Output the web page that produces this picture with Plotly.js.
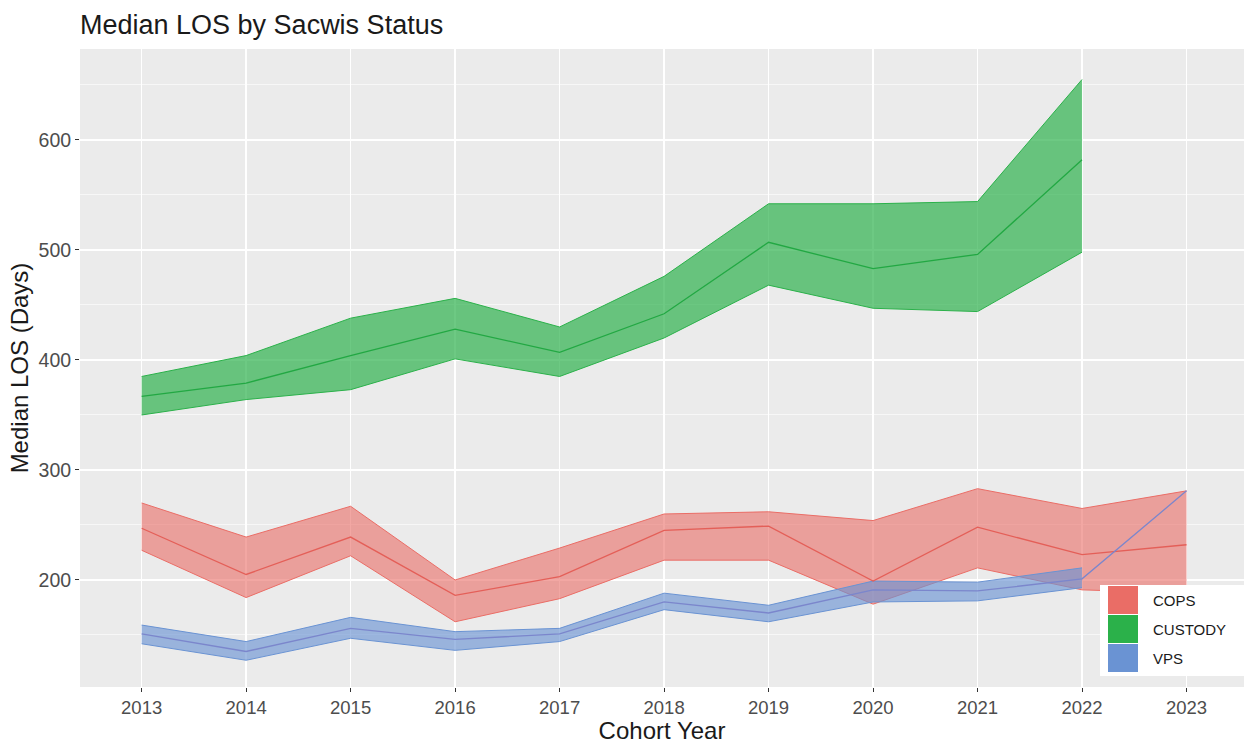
<!DOCTYPE html>
<html>
<head>
<meta charset="utf-8">
<script src="https://cdn.plot.ly/plotly-3.0.1.min.js"></script>
<style>html,body{margin:0;padding:0;background:#fff;}#chart{width:1244px;height:744px;}</style>
</head>
<body>
<div id="chart"></div>
<script>
// Cohort years
const years = [2013, 2014, 2015, 2016, 2017, 2018, 2019, 2020, 2021, 2022, 2023];
const tickLabels = ["2013","2014","2015","2016","2017","2018","2019","2020","2021","2022","2023"];
const groups = ["COPS", "CUSTODY", "VPS"];

// COPS: lower bound, median, upper bound
const copsLo  = [227, 184, 222, 162, 183, 218, 218, 178, 211, 191, 188];
const copsMed = [247, 205, 239, 186, 203, 245, 249, 199, 248, 223, 232];
const copsHi  = [270, 239, 267, 200, 229, 260, 262, 254, 283, 265, 281];

// CUSTODY (no 2023 value)
const custLo  = [350, 364, 373, 401, 385, 420, 468, 447, 444, 498, null];
const custMed = [367, 379, 404, 428, 407, 442, 507, 483, 496, 582, null];
const custHi  = [385, 404, 438, 456, 430, 476, 542, 542, 544, 655, null];

// VPS (ribbon ends 2022, median continues to 2023)
const vpsLo  = [142, 127, 147, 136, 144, 173, 162, 180, 181, 193, null];
const vpsMed = [151, 135, 156, 146, 151, 180, 170, 191, 190, 201, 281];
const vpsHi  = [159, 144, 166, 153, 156, 188, 177, 199, 198, 211, null];

const yTicks = [200, 300, 400, 500, 600];

const colors = {COPS: "#EA6D66", CUSTODY: "#2BB14A", VPS: "#6A93D3"};
const fills  = {COPS: "rgba(234,109,102,0.6)", CUSTODY: "rgba(40,175,72,0.68)", VPS: "rgba(106,147,211,0.64)"};

function ribbon(name, lo, med, hi) {
  const c = colors[name];
  return [
    {x: years, y: lo, type: "scatter", mode: "lines", line: {color: c, width: 1}, hoverinfo: "skip", showlegend: false},
    {x: years, y: hi, type: "scatter", mode: "lines", fill: "tonexty", fillcolor: fills[name], line: {color: c, width: 1}, hoverinfo: "skip", showlegend: false}
  ];
}
function medLine(name, med, col) {
  return {x: years, y: med, type: "scatter", mode: "lines", name: name, line: {color: col || colors[name], width: 1.3}, showlegend: false};
}

const data = [].concat(
  ribbon("COPS", copsLo, copsMed, copsHi),
  ribbon("CUSTODY", custLo, custMed, custHi),
  ribbon("VPS", vpsLo, vpsMed, vpsHi),
  [medLine("COPS", copsMed, "#E45F58"), medLine("CUSTODY", custMed, "#22A843"), medLine("VPS", vpsMed, "#7B86CC")]
);

// custom legend (pixel -> paper coordinates)
const L = 80, R = 1244, T = 49, B = 687;
const px = v => (v - L) / (R - L);
const py = v => (B - v) / (B - T);
const shapes = [
  {type: "rect", xref: "paper", yref: "paper", x0: px(1100), x1: px(1244), y0: py(676), y1: py(585), fillcolor: "white", line: {width: 0}, layer: "above"}
];
const annotations = [];
const keyTops = [586, 615, 644];
groups.forEach((g, i) => {
  shapes.push({type: "rect", xref: "paper", yref: "paper", x0: px(1108), x1: px(1138), y0: py(keyTops[i] + 28), y1: py(keyTops[i]), fillcolor: colors[g], line: {width: 0}, layer: "above"});
  annotations.push({xref: "paper", yref: "paper", x: px(1151), y: py(keyTops[i] + 14), xanchor: "left", yanchor: "middle", text: g, showarrow: false, font: {family: "Liberation Sans, Arial, sans-serif", size: 15, color: "#1a1a1a"}});
});

const layout = {
  width: 1244, height: 744,
  margin: {l: L, r: 1244 - R, t: T, b: 744 - B, pad: 0},
  paper_bgcolor: "white",
  plot_bgcolor: "#EBEBEB",
  font: {family: "Liberation Sans, Arial, sans-serif"},
  title: {text: "Median LOS by Sacwis Status", xref: "container", yref: "container", x: 80 / 1244, xanchor: "left", y: 1 - 25 / 744, yanchor: "middle", font: {size: 27, color: "#1a1a1a"}},
  xaxis: {
    range: [2012.41, 2023.55], tickmode: "array", tickvals: years, ticktext: tickLabels,
    showgrid: true, gridcolor: "white", gridwidth: 1.4, zeroline: false, showline: false,
    ticks: "outside", ticklen: 4, tickwidth: 1, tickcolor: "#333333",
    tickfont: {size: 18.5, color: "#4D4D4D"},
    title: {text: "Cohort Year", font: {size: 24, color: "#1a1a1a"}, standoff: 4}
  },
  yaxis: {
    range: [102.7, 682.7], tickmode: "array", tickvals: yTicks,
    showgrid: true, gridcolor: "white", gridwidth: 1.4, zeroline: false, showline: false,
    ticks: "outside", ticklen: 4, tickwidth: 1, tickcolor: "#333333",
    tickfont: {size: 19.5, color: "#4D4D4D"},
    minor: {tickmode: "linear", tick0: 0, dtick: 50, showgrid: true, gridcolor: "white", gridwidth: 0.6},
    title: {text: "Median LOS (Days)", font: {size: 24, color: "#1a1a1a"}, standoff: 3}
  },
  shapes: shapes,
  annotations: annotations,
  showlegend: false
};

Plotly.newPlot("chart", data, layout, {staticPlot: true, displayModeBar: false});
</script>
</body>
</html>
